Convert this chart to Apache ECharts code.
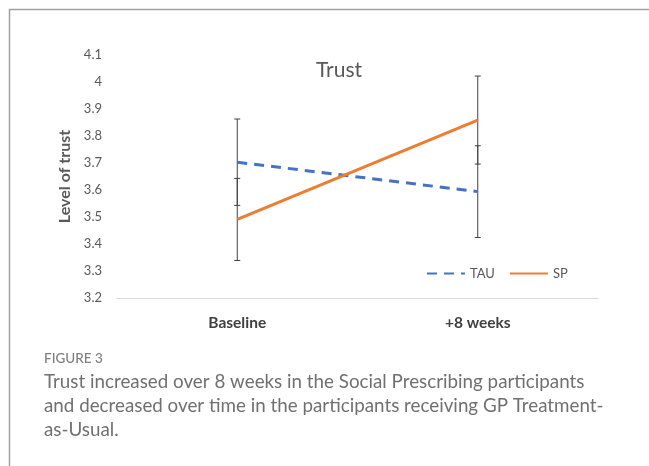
<!DOCTYPE html>
<html lang="en">
<head>
    <meta charset="UTF-8">
    <script src="https://cdn.jsdelivr.net/npm/echarts@6/dist/echarts.min.js"></script>
    <title>Trust</title>
    <style>
        html, body { margin: 0; padding: 0; background: #fff; }
        #chart { width: 649px; height: 466px; }
    </style>
</head>
<body>
<div id="chart"></div>
<script>
    // data
    let timepoints = ['Baseline', '+8 weeks'];
    let tauMean = [3.703, 3.594];
    let tauErr = [0.16, 0.17];
    let spMean = [3.491, 3.859];
    let spErr = [0.152, 0.163];

    let errData = [];
    for (let i = 0; i < timepoints.length; i++) {
        errData.push([i, tauMean[i] - tauErr[i], tauMean[i] + tauErr[i]]);
        errData.push([i, spMean[i] - spErr[i], spMean[i] + spErr[i]]);
    }

    // error bar with small caps
    function errorBar(params, api) {
        let lo = api.coord([api.value(0), api.value(1)]);
        let hi = api.coord([api.value(0), api.value(2)]);
        let cap = 3;
        let style = { stroke: '#404040', lineWidth: 1 };
        return {
            type: 'group',
            children: [
                { type: 'line', shape: { x1: hi[0], y1: hi[1], x2: lo[0], y2: lo[1] }, style: style },
                { type: 'line', shape: { x1: hi[0] - cap, y1: hi[1], x2: hi[0] + cap, y2: hi[1] }, style: style },
                { type: 'line', shape: { x1: lo[0] - cap, y1: lo[1], x2: lo[0] + cap, y2: lo[1] }, style: style }
            ]
        };
    }

    let chart = echarts.init(document.getElementById('chart'));
    chart.setOption({
        animation: false,
        textStyle: { fontFamily: 'Lato' },
        title: {
            text: 'Trust',
            left: 334,
            top: 55,
            textAlign: 'center',
            textStyle: { fontSize: 21, fontWeight: 'normal', color: '#595959', fontFamily: 'Lato' }
        },
        legend: {
            data: ['TAU', 'SP'],
            left: 421,
            top: 262,
            itemWidth: 38,
            itemHeight: 10,
            itemGap: 14,
            itemStyle: { opacity: 0 },
            textStyle: { color: '#595959', fontSize: 13, fontFamily: 'Lato' }
        },
        grid: { left: 117, right: 51, top: 55, bottom: 168 },
        xAxis: {
            type: 'category',
            data: timepoints,
            boundaryGap: true,
            axisLine: { lineStyle: { color: '#d9d9d9' } },
            axisTick: { show: false },
            axisLabel: { color: '#404040', fontWeight: 'bold', fontSize: 15.5, margin: 17 }
        },
        yAxis: {
            type: 'value',
            min: 3.2,
            max: 4.1,
            interval: 0.1,
            name: 'Level of trust',
            nameLocation: 'middle',
            nameGap: 33,
            nameTextStyle: { color: '#595959', fontWeight: 'bold', fontSize: 16 },
            axisLine: { show: false },
            axisTick: { show: false },
            splitLine: { show: false },
            axisLabel: { color: '#595959', fontSize: 13, margin: 15 }
        },
        series: [
            {
                name: 'TAU',
                type: 'line',
                data: tauMean,
                symbol: 'none',
                color: '#4472C4',
                lineStyle: { width: 3, type: [10, 7], color: '#4472C4' },
                z: 3
            },
            {
                name: 'SP',
                type: 'line',
                data: spMean,
                symbol: 'none',
                color: '#ED7D31',
                lineStyle: { width: 3, color: '#ED7D31' },
                z: 3
            },
            {
                name: 'err',
                type: 'custom',
                renderItem: errorBar,
                data: errData,
                encode: { x: 0, y: [1, 2] },
                z: 2
            }
        ],
        graphic: [
            {
                type: 'polyline',
                shape: { points: [[9.5, 466], [9.5, 9.5], [649, 9.5]] },
                style: { stroke: '#a0a0a0', lineWidth: 1.5, fill: null },
                silent: true
            },
            {
                type: 'text',
                left: 44,
                top: 352,
                style: { text: 'FIGURE 3', fill: '#7f7f7f', fontSize: 13.5, fontWeight: 500, fontFamily: 'Lato' }
            },
            {
                type: 'text',
                left: 44,
                top: 370,
                style: {
                    text: 'Trust increased over 8 weeks in the Social Prescribing participants\nand decreased over time in the participants receiving GP Treatment-\nas-Usual.',
                    fill: '#707070',
                    fontSize: 18.8,
                    lineHeight: 24,
                    fontFamily: 'Lato'
                }
            }
        ]
    });
</script>
</body>
</html>
